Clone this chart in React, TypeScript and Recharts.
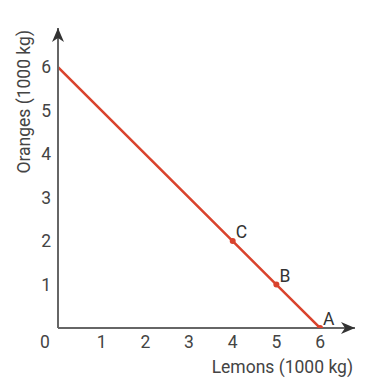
import React from 'react';
import { LineChart, Line, XAxis, YAxis, LabelList } from 'recharts';

// Production possibilities: lemons vs oranges
const lemons = [0, 4, 5, 6];
const oranges = [6, 2, 1, 0];
const pointNames = ['', 'C', 'B', 'A'];
const xTicks = [0, 1, 2, 3, 4, 5, 6];
const yTicks = [1, 2, 3, 4, 5, 6];

const data = lemons.map((l, i) => ({ lemons: l, oranges: oranges[i], name: pointNames[i] }));

const FONT = 'Roboto, "Liberation Sans", sans-serif';
const RED = '#d9432d';
const TEXT = '#444';
const SIZE = 17.5;

const XTick = (props: any) => {
  const { x, y, payload } = props;
  const shift = payload.value === 0 ? -13 : 0;
  return (
    <text x={x + shift} y={y} dy={12} textAnchor="middle" fill={TEXT} fontSize={SIZE} fontFamily={FONT}>
      {payload.value}
    </text>
  );
};

const Dot = (props: any) => {
  const { cx, cy, payload } = props;
  if (!payload.name) return null;
  return <circle cx={cx} cy={cy} r={3} fill={RED} stroke="none" />;
};

const PointLabel = (props: any) => {
  const { x, y, value } = props;
  if (!value) return null;
  return (
    <text x={x + 3} y={y - 3} fill="#333" fontSize={SIZE} fontFamily={FONT}>
      {value}
    </text>
  );
};

const App: React.FC = () => {
  return (
    <div style={{ position: 'absolute', left: 0, top: 0, background: '#fff' }}>
      <svg width={0} height={0} style={{ position: 'absolute' }}>
        <defs>
          <marker
            id="axisArrow"
            markerUnits="userSpaceOnUse"
            markerWidth={14}
            markerHeight={12}
            viewBox="0 0 14 12"
            refX={14}
            refY={6}
            orient="auto-start-reverse"
          >
            <path d="M0,0 L14,6 L0,12 L4,6 z" fill="#333" />
          </marker>
        </defs>
      </svg>
      <LineChart width={382} height={384} data={data} margin={{ top: 28, right: 27, left: 0, bottom: 0 }}>
        <XAxis
          type="number"
          dataKey="lemons"
          domain={[0, 6.8]}
          ticks={xTicks}
          allowDataOverflow
          height={56}
          tickLine={false}
          axisLine={{ stroke: '#666', strokeWidth: 2, markerEnd: 'url(#axisArrow)' } as any}
          tick={<XTick />}
          label={{
            content: (p: any) => {
              const vb = p.viewBox;
              return (
                <text x={vb.x + vb.width - 2} y={vb.y + 45} textAnchor="end" fill={TEXT} fontSize={SIZE} fontFamily={FONT}>
                  Lemons (1000 kg)
                </text>
              );
            },
          }}
        />
        <YAxis
          type="number"
          domain={[0, 6.9]}
          ticks={yTicks}
          allowDataOverflow
          width={58}
          tickLine={false}
          tickMargin={1}
          axisLine={{ stroke: '#666', strokeWidth: 2, markerStart: 'url(#axisArrow)' } as any}
          tick={{ fill: TEXT, fontSize: SIZE, fontFamily: FONT }}
          label={{
            content: (p: any) => {
              const vb = p.viewBox;
              const x = vb.x + 30;
              const y = vb.y + 2;
              return (
                <text x={x} y={y} transform={`rotate(-90 ${x} ${y})`} textAnchor="end" fill={TEXT} fontSize={SIZE} fontFamily={FONT}>
                  Oranges (1000 kg)
                </text>
              );
            },
          }}
        />
        <Line
          type="linear"
          dataKey="oranges"
          stroke={RED}
          strokeWidth={2.5}
          dot={<Dot />}
          activeDot={false}
          isAnimationActive={false}
        >
          <LabelList dataKey="name" content={<PointLabel />} />
        </Line>
      </LineChart>
    </div>
  );
};

export default App;
